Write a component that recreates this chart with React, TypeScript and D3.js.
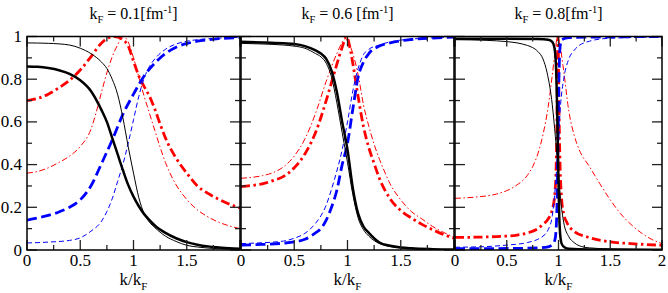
import React from 'react';
import * as d3 from 'd3';

type Pt = [number, number];

// ---------- data (k/kF, value) ----------
const p1BlackThick: Pt[] = [[0,0.86],[0.1,0.858],[0.2,0.852],[0.3,0.842],[0.4,0.825],[0.5,0.795],[0.6,0.745],[0.7,0.655],[0.75,0.6],[0.8,0.525],[0.85,0.45],[0.9,0.375],[0.95,0.305],[1.0,0.25],[1.05,0.205],[1.1,0.168],[1.15,0.14],[1.2,0.115],[1.3,0.08],[1.4,0.055],[1.5,0.037],[1.6,0.025],[1.7,0.017],[1.8,0.012],[1.9,0.008],[2.0,0.006]];
const p1BlackThin: Pt[] = [[0,0.97],[0.2,0.968],[0.4,0.96],[0.5,0.945],[0.6,0.92],[0.7,0.88],[0.75,0.85],[0.8,0.8],[0.85,0.73],[0.9,0.62],[0.95,0.485],[1.0,0.36],[1.05,0.245],[1.1,0.17],[1.15,0.13],[1.2,0.105],[1.3,0.065],[1.4,0.04],[1.5,0.022],[1.6,0.014],[1.7,0.009],[1.8,0.006],[2.0,0.003]];
const p1RedThick: Pt[] = [[0,0.70],[0.1,0.71],[0.2,0.73],[0.3,0.76],[0.4,0.795],[0.5,0.843],[0.6,0.905],[0.7,0.97],[0.75,0.99],[0.82,1.0],[0.9,0.985],[0.95,0.955],[1.0,0.885],[1.05,0.815],[1.1,0.765],[1.15,0.72],[1.2,0.66],[1.25,0.59],[1.3,0.525],[1.4,0.43],[1.5,0.36],[1.6,0.3],[1.7,0.265],[1.8,0.238],[1.9,0.215],[2.0,0.197]];
const p1RedThin: Pt[] = [[0,0.36],[0.1,0.368],[0.2,0.385],[0.3,0.41],[0.4,0.44],[0.5,0.485],[0.6,0.565],[0.65,0.645],[0.7,0.74],[0.75,0.83],[0.8,0.905],[0.85,0.96],[0.9,1.0],[0.95,0.975],[1.0,0.9],[1.05,0.81],[1.1,0.72],[1.15,0.64],[1.2,0.56],[1.3,0.41],[1.4,0.305],[1.5,0.237],[1.6,0.188],[1.7,0.155],[1.8,0.13],[1.9,0.113],[2.0,0.10]];
const p1BlueThick: Pt[] = [[0,0.14],[0.1,0.15],[0.2,0.162],[0.3,0.178],[0.4,0.2],[0.5,0.235],[0.6,0.3],[0.7,0.405],[0.8,0.515],[0.9,0.635],[1.0,0.73],[1.1,0.815],[1.2,0.875],[1.3,0.92],[1.4,0.95],[1.5,0.967],[1.6,0.978],[1.7,0.985],[1.8,0.99],[2.0,0.995]];
const p1BlueThin: Pt[] = [[0,0.033],[0.2,0.037],[0.4,0.045],[0.5,0.057],[0.6,0.088],[0.7,0.135],[0.75,0.18],[0.8,0.24],[0.85,0.32],[0.9,0.4],[0.95,0.5],[1.0,0.61],[1.05,0.72],[1.1,0.805],[1.15,0.86],[1.2,0.895],[1.3,0.94],[1.4,0.965],[1.5,0.978],[1.6,0.985],[1.8,0.992],[2.0,0.996]];

const p2BlackThick: Pt[] = [[0,0.975],[0.2,0.972],[0.4,0.968],[0.5,0.965],[0.6,0.955],[0.7,0.935],[0.75,0.92],[0.8,0.895],[0.85,0.84],[0.9,0.74],[0.95,0.6],[1.0,0.47],[1.05,0.29],[1.1,0.17],[1.15,0.11],[1.2,0.08],[1.3,0.035],[1.4,0.02],[1.5,0.012],[1.6,0.008],[1.8,0.004],[2.0,0.002]];
const p2BlackThin: Pt[] = [[0,0.968],[0.2,0.965],[0.4,0.96],[0.5,0.955],[0.6,0.945],[0.7,0.92],[0.75,0.905],[0.8,0.875],[0.85,0.81],[0.9,0.69],[0.95,0.55],[1.0,0.41],[1.05,0.26],[1.1,0.15],[1.15,0.095],[1.2,0.065],[1.3,0.03],[1.4,0.016],[1.5,0.01],[1.6,0.006],[1.8,0.003],[2.0,0.002]];
const p2RedThick: Pt[] = [[0,0.297],[0.1,0.302],[0.2,0.31],[0.3,0.325],[0.4,0.345],[0.5,0.385],[0.6,0.45],[0.7,0.55],[0.8,0.70],[0.85,0.785],[0.9,0.87],[0.95,0.95],[0.99,1.0],[1.03,0.93],[1.05,0.874],[1.1,0.718],[1.15,0.578],[1.2,0.48],[1.25,0.405],[1.3,0.335],[1.4,0.24],[1.5,0.185],[1.6,0.15],[1.7,0.12],[1.8,0.095],[1.9,0.073],[2.0,0.055]];
const p2RedThin: Pt[] = [[0,0.336],[0.1,0.34],[0.2,0.348],[0.3,0.362],[0.4,0.39],[0.5,0.44],[0.6,0.52],[0.7,0.64],[0.8,0.79],[0.9,0.92],[0.96,0.98],[0.98,0.99],[1.0,0.98],[1.05,0.92],[1.1,0.82],[1.15,0.68],[1.2,0.58],[1.25,0.495],[1.3,0.425],[1.35,0.365],[1.4,0.31],[1.5,0.235],[1.6,0.18],[1.7,0.145],[1.8,0.11],[1.9,0.083],[2.0,0.06]];
const p2BlueThick: Pt[] = [[0,0.023],[0.2,0.026],[0.4,0.032],[0.5,0.038],[0.6,0.05],[0.7,0.08],[0.75,0.1],[0.8,0.14],[0.85,0.2],[0.9,0.28],[0.95,0.4],[1.0,0.5],[1.05,0.66],[1.1,0.81],[1.15,0.88],[1.2,0.92],[1.3,0.955],[1.4,0.97],[1.5,0.98],[1.6,0.986],[1.8,0.993],[2.0,0.997]];
const p2BlueThin: Pt[] = [[0,0.03],[0.2,0.034],[0.4,0.042],[0.5,0.055],[0.6,0.078],[0.7,0.125],[0.75,0.16],[0.8,0.21],[0.85,0.285],[0.9,0.37],[0.95,0.47],[1.0,0.6],[1.05,0.745],[1.1,0.85],[1.15,0.915],[1.2,0.94],[1.3,0.96],[1.4,0.975],[1.5,0.983],[1.6,0.988],[1.8,0.994],[2.0,0.998]];

const p3BlackThick: Pt[] = [[0,0.99],[0.5,0.99],[0.8,0.988],[0.9,0.985],[0.94,0.975],[0.96,0.95],[0.975,0.87],[0.985,0.7],[0.995,0.45],[1.005,0.2],[1.015,0.08],[1.03,0.03],[1.06,0.012],[1.1,0.006],[1.3,0.002],[2.0,0.001]];
const p3BlackThin: Pt[] = [[0,0.985],[0.3,0.982],[0.5,0.976],[0.6,0.97],[0.7,0.958],[0.75,0.948],[0.8,0.93],[0.85,0.895],[0.89,0.83],[0.94,0.68],[0.97,0.53],[1.0,0.36],[1.02,0.24],[1.05,0.13],[1.1,0.062],[1.15,0.035],[1.2,0.02],[1.3,0.01],[1.5,0.005],[2.0,0.002]];
const p3RedThick: Pt[] = [[0,0.059],[0.2,0.06],[0.4,0.063],[0.6,0.07],[0.7,0.08],[0.8,0.1],[0.85,0.12],[0.9,0.145],[0.94,0.19],[0.96,0.24],[0.975,0.35],[0.985,0.6],[0.995,1.0],[1.005,0.65],[1.015,0.4],[1.03,0.24],[1.05,0.17],[1.08,0.13],[1.15,0.088],[1.3,0.058],[1.5,0.038],[1.7,0.03],[2.0,0.022]];
const p3RedThin: Pt[] = [[0,0.242],[0.2,0.248],[0.4,0.262],[0.5,0.278],[0.6,0.305],[0.7,0.35],[0.75,0.39],[0.8,0.45],[0.85,0.54],[0.9,0.67],[0.94,0.82],[0.97,0.94],[0.99,1.0],[1.01,0.97],[1.05,0.84],[1.1,0.65],[1.15,0.54],[1.2,0.47],[1.3,0.39],[1.4,0.31],[1.5,0.235],[1.6,0.17],[1.7,0.12],[1.8,0.08],[1.9,0.05],[2.0,0.03]];
const p3BlueThick: Pt[] = [[0,0.006],[0.5,0.007],[0.8,0.01],[0.9,0.015],[0.95,0.03],[0.97,0.06],[0.985,0.2],[0.995,0.5],[1.005,0.82],[1.015,0.95],[1.03,0.985],[1.1,0.995],[1.5,0.998],[2.0,1.0]];
const p3BlueThin: Pt[] = [[0,0.013],[0.3,0.016],[0.5,0.023],[0.7,0.035],[0.8,0.05],[0.85,0.065],[0.9,0.095],[0.94,0.16],[0.97,0.3],[1.0,0.52],[1.02,0.68],[1.05,0.8],[1.1,0.895],[1.15,0.935],[1.2,0.958],[1.3,0.978],[1.4,0.988],[1.6,0.994],[2.0,0.998]];

const kFValues = ['0.1', '0.6 ', '0.8'];
const xMajorTicks = [0, 0.5, 1, 1.5, 2];
const xMinorTicks = [0.25, 0.75, 1.25, 1.75];
const yMajorTicks = [0, 0.2, 0.4, 0.6, 0.8, 1];
const yMinorTicks = [0.1, 0.3, 0.5, 0.7, 0.9];
const xTickLabels = [['0', '0.5', '1', '1.5'], ['0', '0.5', '1', '1.5'], ['0', '0.5', '1', '1.5', '2']];
const yTickLabels = ['0', '0.2', '0.4', '0.6', '0.8', '1'];

const panelSeries: Pt[][][] = [
  [p1RedThin, p1RedThick, p1BlueThin, p1BlueThick, p1BlackThin, p1BlackThick],
  [p2RedThin, p2RedThick, p2BlueThin, p2BlueThick, p2BlackThin, p2BlackThick],
  [p3RedThin, p3RedThick, p3BlueThin, p3BlueThick, p3BlackThin, p3BlackThick],
];

// ---------- styles ----------
const seriesStyles = [
  { color: '#ff0000', width: 1, dash: '6,2.5,1.5,2.5' },
  { color: '#ff0000', width: 2.8, dash: '9,3.5,2.5,3.5' },
  { color: '#0000ff', width: 1, dash: '5,3' },
  { color: '#0000ff', width: 2.8, dash: '10,4.5' },
  { color: '#000000', width: 1, dash: undefined },
  { color: '#000000', width: 2.5, dash: undefined },
];

const W = 668, H = 293;
const panelLeft = [27, 241, 455];
const panelRight = [240, 454, 662];
const top = 36.5, bottom = 250;
const font = 'Liberation Serif, DejaVu Serif, serif';

export default function App() {
  return (
    <svg width={W} height={H} fontFamily={font} style={{ position: 'absolute', left: 0, top: 0, background: '#fff' }}>
      <rect width={W} height={H} fill="#fff" />
      {panelSeries.map((series, pi) => {
        const x = d3.scaleLinear().domain([0, 2]).range([panelLeft[pi], panelRight[pi]]);
        const y = d3.scaleLinear().domain([0, 1]).range([bottom, top]);
        const line = d3.line<Pt>().x(d => x(d[0])).y(d => y(d[1])).curve(d3.curveMonotoneX);
        const cx = (panelLeft[pi] + panelRight[pi]) / 2;
        const clipId = `clip${pi}`;
        return (
          <g key={pi}>
            <defs>
              <clipPath id={clipId}>
                <rect x={x(0)} y={y(1)} width={x(2) - x(0)} height={y(0) - y(1)} />
              </clipPath>
            </defs>
            <g clipPath={`url(#${clipId})`}>
              {series.map((s, si) => (
                <path key={si} d={line(s) || ''} fill="none" stroke={seriesStyles[si].color}
                  strokeWidth={seriesStyles[si].width} strokeDasharray={seriesStyles[si].dash}
                  strokeLinejoin="round" />
              ))}
            </g>
            <g stroke="#222" strokeWidth={1.3}>
              {xMajorTicks.map(t => (
                <g key={'xM' + t}>
                  <line x1={x(t)} x2={x(t)} y1={y(0)} y2={y(0) - 10} />
                  <line x1={x(t)} x2={x(t)} y1={y(1)} y2={y(1) + 10} />
                </g>
              ))}
              {xMinorTicks.map(t => (
                <g key={'xm' + t}>
                  <line x1={x(t)} x2={x(t)} y1={y(0)} y2={y(0) - 5} />
                  <line x1={x(t)} x2={x(t)} y1={y(1)} y2={y(1) + 5} />
                </g>
              ))}
              {yMajorTicks.map(t => (
                <g key={'yM' + t}>
                  <line x1={x(0)} x2={x(0) + 10} y1={y(t)} y2={y(t)} />
                  <line x1={x(2)} x2={x(2) - 10} y1={y(t)} y2={y(t)} />
                </g>
              ))}
              {yMinorTicks.map(t => (
                <g key={'ym' + t}>
                  <line x1={x(0)} x2={x(0) + 5} y1={y(t)} y2={y(t)} />
                  <line x1={x(2)} x2={x(2) - 5} y1={y(t)} y2={y(t)} />
                </g>
              ))}
            </g>
            <rect x={x(0)} y={y(1)} width={x(2) - x(0)} height={y(0) - y(1)} fill="none" stroke="#000" strokeWidth={1.5} />
            {xTickLabels[pi].map((lab, i) => (
              <text key={'xl' + i} x={x(xMajorTicks[i])} y={266} textAnchor="middle" fontSize={17} fill="#000" fontFamily={font}>{lab}</text>
            ))}
            {pi === 0 && yTickLabels.map((lab, i) => (
              <text key={'yl' + i} x={x(0) - 5} y={y(yMajorTicks[i]) + 5.5} textAnchor="end" fontSize={17} fill="#000" fontFamily={font}>{lab}</text>
            ))}
            <text x={cx} y={285} textAnchor="middle" fontSize={17} fill="#000" fontFamily={font}>
              k/k<tspan fontSize={11} dy={5}>F</tspan>
            </text>
            <text x={cx} y={18.5} textAnchor="middle" fontSize={16} fill="#000" fontFamily={font}>
              k<tspan fontSize={10.5} dy={4}>F</tspan><tspan dy={-4}>{` = ${kFValues[pi]}[fm`}</tspan><tspan fontSize={10.5} dy={-6}>-1</tspan><tspan dy={6}>]</tspan>
            </text>
          </g>
        );
      })}
    </svg>
  );
}
